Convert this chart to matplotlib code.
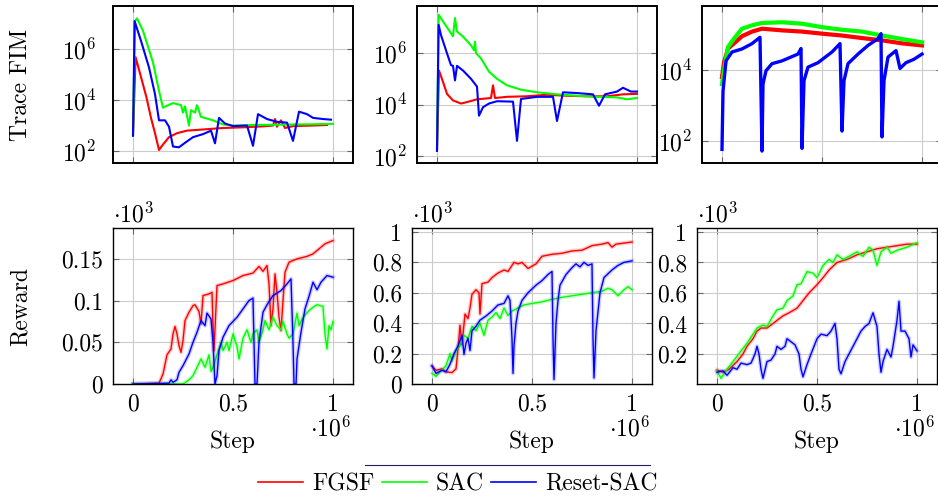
import matplotlib
matplotlib.use("Agg")
import matplotlib.pyplot as plt
from matplotlib.lines import Line2D
from matplotlib.ticker import NullLocator

plt.rcParams["font.family"] = "serif"
plt.rcParams["font.serif"] = ["cmr10"]
plt.rcParams["mathtext.fontset"] = "cm"
plt.rcParams["axes.formatter.use_mathtext"] = True
FS = 17
plt.rcParams["font.size"] = FS

RED, GREEN, BLUE = "#ff0000", "#00ff00", "#0000ff"
labels = ["FGSF", "SAC", "Reset-SAC"]

# ---- Trace FIM, environment 1 (step in 1e6) ----
fim1_fgsf_x = [0, 0.013, 0.04, 0.067, 0.09, 0.11, 0.13, 0.15, 0.18, 0.22, 0.27, 0.35, 0.45, 0.55,
               0.65, 0.7, 0.71, 0.72, 0.74, 0.76, 0.8, 0.9, 0.97]
fim1_fgsf = [4e2, 4.8e5, 8e4, 1.3e4, 2e3, 5e2, 1.1e2, 1.8e2, 3.5e2, 5e2, 6.3e2, 7e2, 8e2, 8.5e2,
             9.3e2, 1e3, 1.8e3, 9e2, 1.6e3, 8e2, 9.5e2, 1e3, 1.05e3]
fim1_sac_x = [0, 0.01, 0.02, 0.05, 0.1, 0.13, 0.15, 0.17, 0.2, 0.24, 0.25, 0.26, 0.28, 0.29, 0.31,
              0.32, 0.34, 0.4, 0.45, 0.5, 0.6, 0.7, 0.8, 0.9, 1.0]
fim1_sac = [4e2, 1.25e7, 1.6e7, 5.2e6, 3e5, 2.3e4, 5e3, 6e3, 7.6e3, 6.3e3, 3.2e3, 5.6e3, 1e3, 4e3,
            3.2e3, 6.3e3, 2.2e3, 1.6e3, 1.1e3, 1e3, 1.05e3, 1.07e3, 1.1e3, 1.12e3, 1.17e3]
fim1_reset_x = [0, 0.008, 0.04, 0.08, 0.11, 0.13, 0.16, 0.18, 0.2, 0.23, 0.26, 0.3, 0.35, 0.39,
                0.41, 0.43, 0.46, 0.5, 0.57, 0.6, 0.625, 0.67, 0.72, 0.77, 0.8, 0.83, 0.87, 0.9,
                0.95, 0.99]
fim1_reset = [4e2, 1.25e7, 2.1e6, 1.9e5, 1.7e4, 1.6e3, 1.6e3, 9e2, 1.5e2, 1.4e2, 2.1e2, 3.5e2,
              4.6e2, 6.3e2, 2e2, 2e3, 1.2e3, 9.5e2, 1e3, 1.6e2, 2.8e3, 1.8e3, 1.4e3, 1.3e3, 2.5e2,
              3.5e3, 2.8e3, 2e3, 1.8e3, 1.7e3]

# ---- Trace FIM, environment 2 ----
fim2_fgsf_x = [0, 0.01, 0.03, 0.05, 0.08, 0.12, 0.15, 0.2, 0.27, 0.28, 0.29, 0.35, 0.45, 0.55,
               0.65, 0.75, 0.85, 0.93, 1.0]
fim2_fgsf = [1.6e2, 2.1e5, 7.6e4, 2.6e4, 1.45e4, 1.1e4, 1.25e4, 1.6e4, 1.8e4, 5.6e4, 1.8e4, 2e4,
             2.1e4, 2.4e4, 2.2e4, 2.1e4, 2.1e4, 2.5e4, 2.6e4]
fim2_sac_x = [0, 0.008, 0.03, 0.07, 0.08, 0.09, 0.1, 0.13, 0.17, 0.185, 0.19, 0.195, 0.22, 0.26,
              0.3, 0.35, 0.42, 0.5, 0.6, 0.7, 0.8, 0.9, 0.95, 1.0]
fim2_sac = [1.6e2, 3.1e7, 1.7e7, 5.9e6, 4.5e6, 2.3e7, 6.9e6, 4.4e6, 2e6, 1.3e6, 2.8e6, 1e6,
            6.2e5, 1.9e5, 1e5, 5.6e4, 3.8e4, 3e4, 2.5e4, 2.2e4, 2e4, 1.9e4, 1.6e4, 1.8e4]
fim2_reset_x = [0, 0.008, 0.02, 0.05, 0.07, 0.08, 0.09, 0.1, 0.13, 0.17, 0.2, 0.21, 0.23, 0.26,
                0.3, 0.38, 0.4, 0.42, 0.5, 0.58, 0.6, 0.63, 0.7, 0.78, 0.81, 0.84, 0.9, 0.93,
                0.97, 1.0]
fim2_reset = [1.6e2, 1.25e7, 5e6, 9.8e5, 3.4e5, 3.2e5, 8.7e4, 3.2e5, 2.1e5, 1e5, 5e4, 3.7e3,
              7.9e3, 1.1e4, 1.35e4, 1.3e4, 3.9e2, 1.65e4, 2e4, 2e4, 2.3e3, 3e4, 2.8e4, 2.5e4,
              9e3, 2.5e4, 3.2e4, 4.5e4, 3.2e4, 3.2e4]

# ---- Trace FIM, environment 3 ----
fim3_fgsf_x = [0, 0.01, 0.03, 0.06, 0.1, 0.15, 0.2, 0.3, 0.4, 0.5, 0.6, 0.7, 0.8, 0.9, 1.0]
fim3_fgsf = [6.3e3, 1.6e4, 4e4, 5.6e4, 8.9e4, 1.2e5, 1.45e5, 1.3e5, 1.2e5, 1.05e5, 9.3e4, 7.9e4,
             6.8e4, 5.6e4, 4.9e4]
fim3_sac_x = [0, 0.01, 0.03, 0.06, 0.1, 0.15, 0.2, 0.3, 0.4, 0.5, 0.6, 0.7, 0.8, 0.9, 1.0]
fim3_sac = [4e3, 1e4, 4.4e4, 7.6e4, 1.45e5, 1.8e5, 2.1e5, 2.2e5, 2e5, 1.6e5, 1.35e5, 1.2e5,
            9.3e4, 7.4e4, 6e4]
fim3_reset_x = [0, 0.005, 0.02, 0.05, 0.1, 0.15, 0.19, 0.2, 0.205, 0.22, 0.25, 0.3, 0.38, 0.395,
                0.4, 0.41, 0.43, 0.48, 0.55, 0.59, 0.6, 0.61, 0.63, 0.68, 0.73, 0.78, 0.795,
                0.8, 0.81, 0.83, 0.87, 0.89, 0.92, 0.96, 1.0]
fim3_reset = [58, 2.5e3, 1.8e4, 3.2e4, 3.9e4, 5.5e4, 8.3e4, 52, 4e3, 9.5e3, 1.5e4, 1.8e4, 2.8e4,
              4e4, 62, 5e3, 1.2e4, 1.6e4, 3.2e4, 5.5e4, 1.9e2, 5e3, 1.5e4, 2.8e4, 4.9e4, 7.6e4,
              1.05e5, 1.3e2, 5e3, 2.3e4, 3.5e4, 1.1e4, 1.6e4, 2e4, 2.8e4]

# ---- Reward (x 1e3), environment 1 ----
rew1_fgsf_x = [0, 0.13, 0.15, 0.17, 0.19, 0.2, 0.21, 0.22, 0.23, 0.24, 0.25, 0.26, 0.28, 0.3,
               0.31, 0.33, 0.34, 0.35, 0.38, 0.395, 0.40, 0.405, 0.42, 0.45, 0.5, 0.55, 0.6,
               0.63, 0.65, 0.67, 0.68, 0.69, 0.7, 0.71, 0.72, 0.73, 0.74, 0.75, 0.76, 0.78,
               0.82, 0.87, 0.9, 0.93, 0.96, 1.0]
rew1_fgsf = [0.0, 0.001, 0.012, 0.035, 0.042, 0.06, 0.069, 0.06, 0.046, 0.038, 0.052, 0.076,
             0.086, 0.094, 0.095, 0.087, 0.072, 0.106, 0.108, 0.11, 0.07, 0.04, 0.118, 0.12,
             0.124, 0.13, 0.133, 0.141, 0.135, 0.142, 0.12, 0.07, 0.09, 0.132, 0.11, 0.08,
             0.064, 0.1, 0.134, 0.146, 0.15, 0.153, 0.156, 0.162, 0.168, 0.172]
rew1_sac_x = [0, 0.25, 0.28, 0.3, 0.32, 0.34, 0.36, 0.38, 0.39, 0.4, 0.42, 0.44, 0.45, 0.47,
              0.48, 0.5, 0.52, 0.53, 0.55, 0.57, 0.59, 0.6, 0.62, 0.63, 0.65, 0.66, 0.68, 0.7,
              0.72, 0.74, 0.75, 0.77, 0.78, 0.8, 0.82, 0.83, 0.85, 0.88, 0.9, 0.92, 0.95,
              0.96, 0.97, 0.98, 0.99, 1.0]
rew1_sac = [0, 0.0, 0.005, 0.01, 0.02, 0.03, 0.02, 0.035, 0.015, 0.02, 0.035, 0.05, 0.04, 0.05,
            0.04, 0.06, 0.045, 0.03, 0.055, 0.065, 0.05, 0.06, 0.065, 0.05, 0.065, 0.076,
            0.065, 0.08, 0.07, 0.065, 0.075, 0.06, 0.055, 0.06, 0.085, 0.07, 0.08, 0.088,
            0.092, 0.095, 0.093, 0.06, 0.042, 0.07, 0.065, 0.075]
rew1_reset_x = [0, 0.18, 0.19, 0.2, 0.22, 0.23, 0.25, 0.28, 0.3, 0.32, 0.34, 0.36, 0.37, 0.39,
                0.4, 0.41, 0.42, 0.43, 0.45, 0.48, 0.52, 0.55, 0.58, 0.6, 0.605, 0.61, 0.62,
                0.63, 0.65, 0.67, 0.7, 0.74, 0.77, 0.79, 0.8, 0.805, 0.815, 0.82, 0.84, 0.86,
                0.88, 0.9, 0.92, 0.94, 0.97, 1.0]
rew1_reset = [0.0, 0.001, 0.005, 0.002, 0.005, 0.014, 0.022, 0.036, 0.05, 0.062, 0.076, 0.07,
              0.085, 0.078, 0.05, 0.0, 0.01, 0.04, 0.056, 0.07, 0.08, 0.09, 0.1, 0.103, 0.05,
              0.0, 0.0, 0.05, 0.086, 0.095, 0.106, 0.112, 0.12, 0.126, 0.05, 0.0, 0.0, 0.03,
              0.062, 0.09, 0.105, 0.122, 0.113, 0.122, 0.13, 0.128]

# ---- Reward, environment 2 ----
rew2_fgsf_x = [0, 0.02, 0.05, 0.07, 0.1, 0.12, 0.13, 0.14, 0.15, 0.165, 0.18, 0.19, 0.2, 0.22,
               0.235, 0.24, 0.25, 0.28, 0.3, 0.33, 0.36, 0.38, 0.41, 0.43, 0.45, 0.48, 0.52,
               0.55, 0.6, 0.65, 0.7, 0.75, 0.8, 0.85, 0.88, 0.9, 0.92, 0.95, 1.0]
rew2_fgsf = [0.118, 0.09, 0.1, 0.08, 0.075, 0.1, 0.23, 0.386, 0.26, 0.46, 0.43, 0.5, 0.59, 0.62,
             0.6, 0.46, 0.66, 0.67, 0.7, 0.73, 0.75, 0.74, 0.8, 0.79, 0.8, 0.76, 0.79, 0.84,
             0.853, 0.86, 0.875, 0.88, 0.91, 0.92, 0.93, 0.9, 0.92, 0.925, 0.934]
rew2_sac_x = [0, 0.02, 0.04, 0.07, 0.09, 0.1, 0.12, 0.14, 0.16, 0.18, 0.2, 0.22, 0.24, 0.26,
              0.28, 0.3, 0.32, 0.34, 0.36, 0.38, 0.4, 0.43, 0.46, 0.5, 0.55, 0.6, 0.65, 0.7,
              0.75, 0.8, 0.85, 0.88, 0.9, 0.93, 0.96, 0.98, 1.0]
rew2_sac = [0.07, 0.05, 0.08, 0.12, 0.2, 0.15, 0.22, 0.25, 0.32, 0.3, 0.38, 0.35, 0.4, 0.32,
            0.42, 0.44, 0.47, 0.43, 0.5, 0.45, 0.48, 0.5, 0.52, 0.53, 0.54, 0.557, 0.57, 0.58,
            0.59, 0.6, 0.61, 0.63, 0.62, 0.58, 0.62, 0.64, 0.62]
rew2_reset_x = [0, 0.02, 0.05, 0.07, 0.09, 0.11, 0.13, 0.15, 0.16, 0.17, 0.18, 0.19, 0.2, 0.22,
                0.24, 0.27, 0.3, 0.33, 0.36, 0.38, 0.39, 0.4, 0.405, 0.41, 0.42, 0.43, 0.45,
                0.48, 0.52, 0.55, 0.58, 0.6, 0.605, 0.61, 0.62, 0.63, 0.64, 0.67, 0.7, 0.72,
                0.74, 0.76, 0.78, 0.8, 0.805, 0.81, 0.82, 0.84, 0.86, 0.9, 0.93, 0.96, 1.0]
rew2_reset = [0.12, 0.07, 0.09, 0.08, 0.13, 0.2, 0.25, 0.32, 0.195, 0.27, 0.3, 0.22, 0.35, 0.38,
              0.42, 0.447, 0.48, 0.52, 0.53, 0.58, 0.55, 0.3, 0.07, 0.25, 0.4, 0.48, 0.55, 0.6,
              0.65, 0.68, 0.72, 0.74, 0.3, 0.03, 0.4, 0.55, 0.65, 0.72, 0.765, 0.79, 0.77,
              0.8, 0.78, 0.79, 0.3, 0.04, 0.35, 0.6, 0.7, 0.75, 0.78, 0.8, 0.81]

# ---- Reward, environment 3 ----
rew3_fgsf_x = [0, 0.03, 0.06, 0.1, 0.13, 0.15, 0.18, 0.2, 0.22, 0.25, 0.28, 0.3, 0.33, 0.36,
               0.4, 0.43, 0.46, 0.5, 0.53, 0.56, 0.6, 0.65, 0.7, 0.75, 0.8, 0.85, 0.9, 0.95, 1.0]
rew3_fgsf = [0.095, 0.08, 0.1, 0.15, 0.2, 0.25, 0.3, 0.35, 0.37, 0.37, 0.4, 0.42, 0.45, 0.47,
             0.5, 0.55, 0.6, 0.654, 0.7, 0.75, 0.8, 0.82, 0.85, 0.87, 0.89, 0.9, 0.91, 0.92, 0.92]
rew3_sac_x = [0, 0.02, 0.05, 0.08, 0.12, 0.15, 0.18, 0.2, 0.23, 0.25, 0.28, 0.3, 0.33, 0.35,
              0.38, 0.4, 0.42, 0.45, 0.48, 0.5, 0.53, 0.56, 0.58, 0.6, 0.63, 0.66, 0.7, 0.73,
              0.76, 0.78, 0.8, 0.82, 0.85, 0.87, 0.9, 0.95, 1.0]
rew3_sac = [0.09, 0.04, 0.1, 0.15, 0.22, 0.27, 0.33, 0.37, 0.39, 0.38, 0.45, 0.49, 0.5, 0.55,
            0.58, 0.654, 0.66, 0.74, 0.73, 0.7, 0.78, 0.82, 0.8, 0.85, 0.82, 0.84, 0.87, 0.84,
            0.9, 0.88, 0.78, 0.87, 0.9, 0.86, 0.88, 0.9, 0.93]
rew3_reset_x = [0, 0.03, 0.05, 0.08, 0.1, 0.12, 0.15, 0.17, 0.19, 0.2, 0.21, 0.22, 0.23, 0.25,
                0.27, 0.29, 0.3, 0.32, 0.34, 0.35, 0.37, 0.39, 0.41, 0.42, 0.43, 0.45, 0.47,
                0.5, 0.52, 0.55, 0.57, 0.59, 0.6, 0.61, 0.62, 0.64, 0.66, 0.68, 0.7, 0.72,
                0.74, 0.76, 0.78, 0.8, 0.81, 0.82, 0.83, 0.85, 0.87, 0.88, 0.9, 0.91, 0.92,
                0.94, 0.96, 0.97, 0.98, 1.0]
rew3_reset = [0.08, 0.09, 0.06, 0.11, 0.1, 0.14, 0.13, 0.14, 0.2, 0.25, 0.2, 0.1, 0.04, 0.15,
              0.16, 0.2, 0.25, 0.23, 0.25, 0.3, 0.28, 0.26, 0.2, 0.1, 0.05, 0.13, 0.2, 0.3,
              0.33, 0.32, 0.35, 0.4, 0.3, 0.1, 0.07, 0.15, 0.2, 0.25, 0.3, 0.35, 0.38, 0.4,
              0.47, 0.38, 0.2, 0.08, 0.15, 0.23, 0.18, 0.25, 0.42, 0.545, 0.35, 0.35, 0.3,
              0.18, 0.26, 0.22]

W, H = 938, 497
fig = plt.figure(figsize=(W / 100, H / 100), dpi=100)


def px_axes(left, top, right, bottom):
    return fig.add_axes([left / W, 1 - bottom / H, (right - left) / W, (bottom - top) / H])


def style(ax, frame_lw, ypad):
    ax.set_xlim(-0.1, 1.1)
    ax.set_xticks([0, 0.5, 1])
    ax.grid(True, color="#cccccc", lw=0.8)
    ax.set_axisbelow(True)
    ax.tick_params(direction="in", top=True, right=True, length=4, width=0.8,
                   color="#666666", labelsize=FS)
    ax.tick_params(axis="y", pad=ypad)
    ax.tick_params(axis="x", pad=7)
    for s in ax.spines.values():
        s.set_linewidth(frame_lw)


# top row: trace of FIM
top_specs = [
    ((113, 6, 353, 163), (10 ** 1.53, 10 ** 7.69), [1e2, 1e4, 1e6], 12,
     [(fim1_fgsf_x, fim1_fgsf), (fim1_sac_x, fim1_sac), (fim1_reset_x, fim1_reset)], 1.5),
    ((417, 6, 657, 163), (10 ** 1.73, 10 ** 7.83), [1e2, 1e4, 1e6], 7,
     [(fim2_fgsf_x, fim2_fgsf), (fim2_sac_x, fim2_sac), (fim2_reset_x, fim2_reset)], 1.5),
    ((702, 6, 942, 163), (10 ** 1.38, 10 ** 5.8), [1e2, 1e4], 7,
     [(fim3_fgsf_x, fim3_fgsf), (fim3_sac_x, fim3_sac), (fim3_reset_x, fim3_reset)], 3.0),
]
for box, ylim, yticks, ypad, series, lw in top_specs:
    ax = px_axes(*box)
    for (xs, ys), c in zip(series, [RED, GREEN, BLUE]):
        ax.plot(xs, ys, color=c, lw=lw if c != BLUE else min(lw, 2.4))
    ax.set_yscale("log")
    ax.set_ylim(*ylim)
    ax.set_yticks(yticks)
    ax.yaxis.set_minor_locator(NullLocator())
    style(ax, 1.4, ypad)
    ax.set_xticklabels([])

# bottom row: reward
bot_specs = [
    ((113, 228, 353, 384), (0, 0.187), [0, 0.05, 0.1, 0.15], ["0", "0.05", "0.1", "0.15"],
     [(rew1_fgsf_x, rew1_fgsf), (rew1_sac_x, rew1_sac), (rew1_reset_x, rew1_reset)]),
    ((412, 228, 652, 384), (0, 1.026), [0, 0.2, 0.4, 0.6, 0.8, 1],
     ["0", "0.2", "0.4", "0.6", "0.8", "1"],
     [(rew2_fgsf_x, rew2_fgsf), (rew2_sac_x, rew2_sac), (rew2_reset_x, rew2_reset)]),
    ((697, 228, 937, 384), (0.003, 1.026), [0.2, 0.4, 0.6, 0.8, 1],
     ["0.2", "0.4", "0.6", "0.8", "1"],
     [(rew3_fgsf_x, rew3_fgsf), (rew3_sac_x, rew3_sac), (rew3_reset_x, rew3_reset)]),
]
for box, ylim, yticks, ylabels, series in bot_specs:
    ax = px_axes(*box)
    for (xs, ys), c in zip(series, [RED, GREEN, BLUE]):
        ax.plot(xs, ys, color=c, lw=3, alpha=0.2, solid_joinstyle="round")
        ax.plot(xs, ys, color=c, lw=1.0)
    ax.set_ylim(*ylim)
    ax.set_yticks(yticks)
    ax.set_yticklabels(ylabels)
    style(ax, 1.0, 7)
    ax.set_xticklabels(["0", "0.5", "1"])
    ax.text(0.0, 1.085, r"$\cdot 10^{3}$", transform=ax.transAxes, ha="left", va="center",
            fontsize=FS)
    ax.text(0.99, -0.29, r"$\cdot 10^{6}$", transform=ax.transAxes, ha="right", va="center",
            fontsize=FS)
    ax.text(0.5, -0.37, "Step", transform=ax.transAxes, ha="center", va="center", fontsize=FS)

fig.text(21 / W, 1 - 85 / H, "Trace FIM", rotation=90, ha="center", va="center", fontsize=FS)
fig.text(21 / W, 1 - 307 / H, "Reward", rotation=90, ha="center", va="center", fontsize=FS)

handles = [Line2D([], [], color=c, lw=1.2) for c in [RED, GREEN, BLUE]]
fig.legend(handles, labels, loc="center", bbox_to_anchor=(458 / W, 1 - 484 / H), ncol=3,
           frameon=False, handlelength=1.9, handletextpad=0.4, columnspacing=0.3,
           fontsize=FS, borderpad=0)
fig.add_artist(Line2D([365 / W, 650 / W], [1 - 465 / H, 1 - 465 / H], color="#202060", lw=0.8))

fig.savefig("out.png", dpi=100)
